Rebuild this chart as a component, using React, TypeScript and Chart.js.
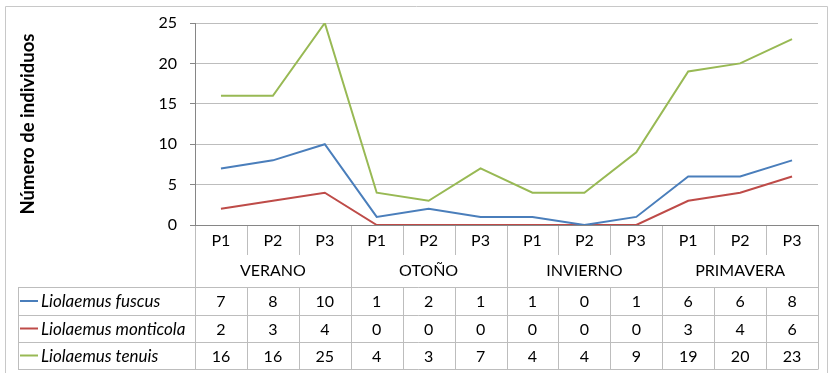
import React, { useEffect, useRef } from "react";
import { Chart, registerables } from "chart.js";

Chart.register(...registerables);

const periods = ["P1", "P2", "P3", "P1", "P2", "P3", "P1", "P2", "P3", "P1", "P2", "P3"];
const seasons = ["VERANO", "OTOÑO", "INVIERNO", "PRIMAVERA"];
const fuscus = [7, 8, 10, 1, 2, 1, 1, 0, 1, 6, 6, 8];
const monticola = [2, 3, 4, 0, 0, 0, 0, 0, 0, 3, 4, 6];
const tenuis = [16, 16, 25, 4, 3, 7, 4, 4, 9, 19, 20, 23];
const seriesNames = ["Liolaemus fuscus", "Liolaemus monticola", "Liolaemus tenuis"];
const seriesColors = ["#4A7EBB", "#BE4B48", "#98B954"];
const yTicks = [0, 5, 10, 15, 20, 25];
const yTitle = "Número de individuos";

const FONT = "Lato, 'Open Sans', sans-serif";

const tablePlugin = {
  id: "dataTable",
  afterDraw(chart: any) {
    const ctx = chart.ctx as CanvasRenderingContext2D;
    const area = chart.chartArea;
    const left = area.left;
    const right = area.right;
    const top0 = area.bottom;
    const n = periods.length;
    const w = (right - left) / n;
    const pRowBottom = top0 + 30;
    const seasonBottom = top0 + 62;
    const rowLines = [seasonBottom, seasonBottom + 28, seasonBottom + 55, seasonBottom + 82];
    const tableLeft = 18;
    const all = [fuscus, monticola, tenuis];

    ctx.save();
    // outer chart border
    ctx.strokeStyle = "#C8C8C8";
    ctx.lineWidth = 1;
    ctx.beginPath();
    ctx.moveTo(5.5, 373);
    ctx.lineTo(5.5, 6.5);
    ctx.lineTo(827.5, 6.5);
    ctx.lineTo(827.5, 373);
    ctx.stroke();

    // table grid
    ctx.strokeStyle = "#BDBDBD";
    ctx.beginPath();
    for (let k = 1; k < n; k++) {
      const x = Math.round(left + k * w) + 0.5;
      const isSeason = k % 3 === 0;
      ctx.moveTo(x, top0);
      ctx.lineTo(x, isSeason ? rowLines[3] : pRowBottom);
      if (!isSeason) {
        ctx.moveTo(x, rowLines[0]);
        ctx.lineTo(x, rowLines[3]);
      }
    }
    const xl = Math.round(left) + 0.5;
    const xr = Math.round(right) + 0.5;
    ctx.moveTo(xl, top0);
    ctx.lineTo(xl, rowLines[3]);
    ctx.moveTo(xr, top0);
    ctx.lineTo(xr, rowLines[3]);
    ctx.moveTo(tableLeft + 0.5, rowLines[0]);
    ctx.lineTo(tableLeft + 0.5, rowLines[3]);
    for (const y of rowLines) {
      ctx.moveTo(tableLeft, Math.round(y) + 0.5);
      ctx.lineTo(xr, Math.round(y) + 0.5);
    }
    ctx.stroke();

    // axis line
    ctx.strokeStyle = "#868686";
    ctx.beginPath();
    ctx.moveTo(xl - 0.5, Math.round(top0) + 0.5);
    ctx.lineTo(xr + 0.5, Math.round(top0) + 0.5);
    ctx.stroke();

    // texts
    ctx.fillStyle = "#000";
    ctx.textAlign = "center";
    ctx.textBaseline = "middle";
    ctx.font = `16px ${FONT}`;
    const xs = chart.scales.x;
    for (let i = 0; i < n; i++) {
      const cx = xs.getPixelForValue(i);
      ctx.fillText(periods[i], cx, top0 + 16);
      all.forEach((arr, r) => {
        ctx.fillText(String(arr[i]), cx, (rowLines[r] + rowLines[r + 1]) / 2 + 1);
      });
    }
    seasons.forEach((s, j) => {
      const cx = left + (j * 3 + 1.5) * w;
      ctx.fillText(s, cx, top0 + 46);
    });

    // legend keys & names
    ctx.textAlign = "left";
    ctx.font = `italic 17px ${FONT}`;
    seriesNames.forEach((name, r) => {
      const cy = (rowLines[r] + rowLines[r + 1]) / 2;
      ctx.strokeStyle = seriesColors[r];
      ctx.lineWidth = 2;
      ctx.beginPath();
      ctx.moveTo(20, cy);
      ctx.lineTo(38, cy);
      ctx.stroke();
      ctx.fillStyle = "#000";
      ctx.fillText(name, 41, cy + 1);
    });
    ctx.restore();
  },
};

export default function App() {
  const ref = useRef<HTMLCanvasElement | null>(null);
  useEffect(() => {
    if (!ref.current) return;
    const chart = new Chart(ref.current, {
      type: "line",
      data: {
        labels: periods.map((p, i) => `${p}-${i}`),
        datasets: [fuscus, monticola, tenuis].map((d, i) => ({
          label: seriesNames[i],
          data: d,
          borderColor: seriesColors[i],
          backgroundColor: seriesColors[i],
          borderWidth: 2,
          pointRadius: 0,
          tension: 0,
          fill: false,
        })),
      },
      options: {
        animation: false,
        responsive: false,
        maintainAspectRatio: false,
        layout: { padding: { left: 0, top: 23, right: 18, bottom: 156 } },
        plugins: { legend: { display: false }, tooltip: { enabled: false } },
        scales: {
          x: { display: false, offset: true },
          y: {
            min: 0,
            max: 25,
            afterBuildTicks: (scale: any) => {
              scale.ticks = yTicks.map((v) => ({ value: v }));
            },
            afterFit: (scale: any) => {
              scale.width = 195;
            },
            ticks: {
              color: "#000",
              font: { family: FONT, size: 16 },
              padding: 13,
            },
            grid: { color: "#BDBDBD", drawTicks: true, tickLength: 5, tickColor: "#868686" },
            border: { display: true, color: "#868686" },
            title: {
              display: true,
              text: yTitle,
              color: "#000",
              font: { family: FONT, size: 18.5, weight: "bold" },
              padding: { top: 17, bottom: 0 },
            },
          },
        },
      },
      plugins: [tablePlugin],
    });
    return () => chart.destroy();
  }, []);
  return (
    <div style={{ position: "absolute", left: 0, top: 0, width: 836, height: 381, background: "#fff" }}>
      <canvas ref={ref} width={836} height={381} style={{ display: "block" }} />
    </div>
  );
}
